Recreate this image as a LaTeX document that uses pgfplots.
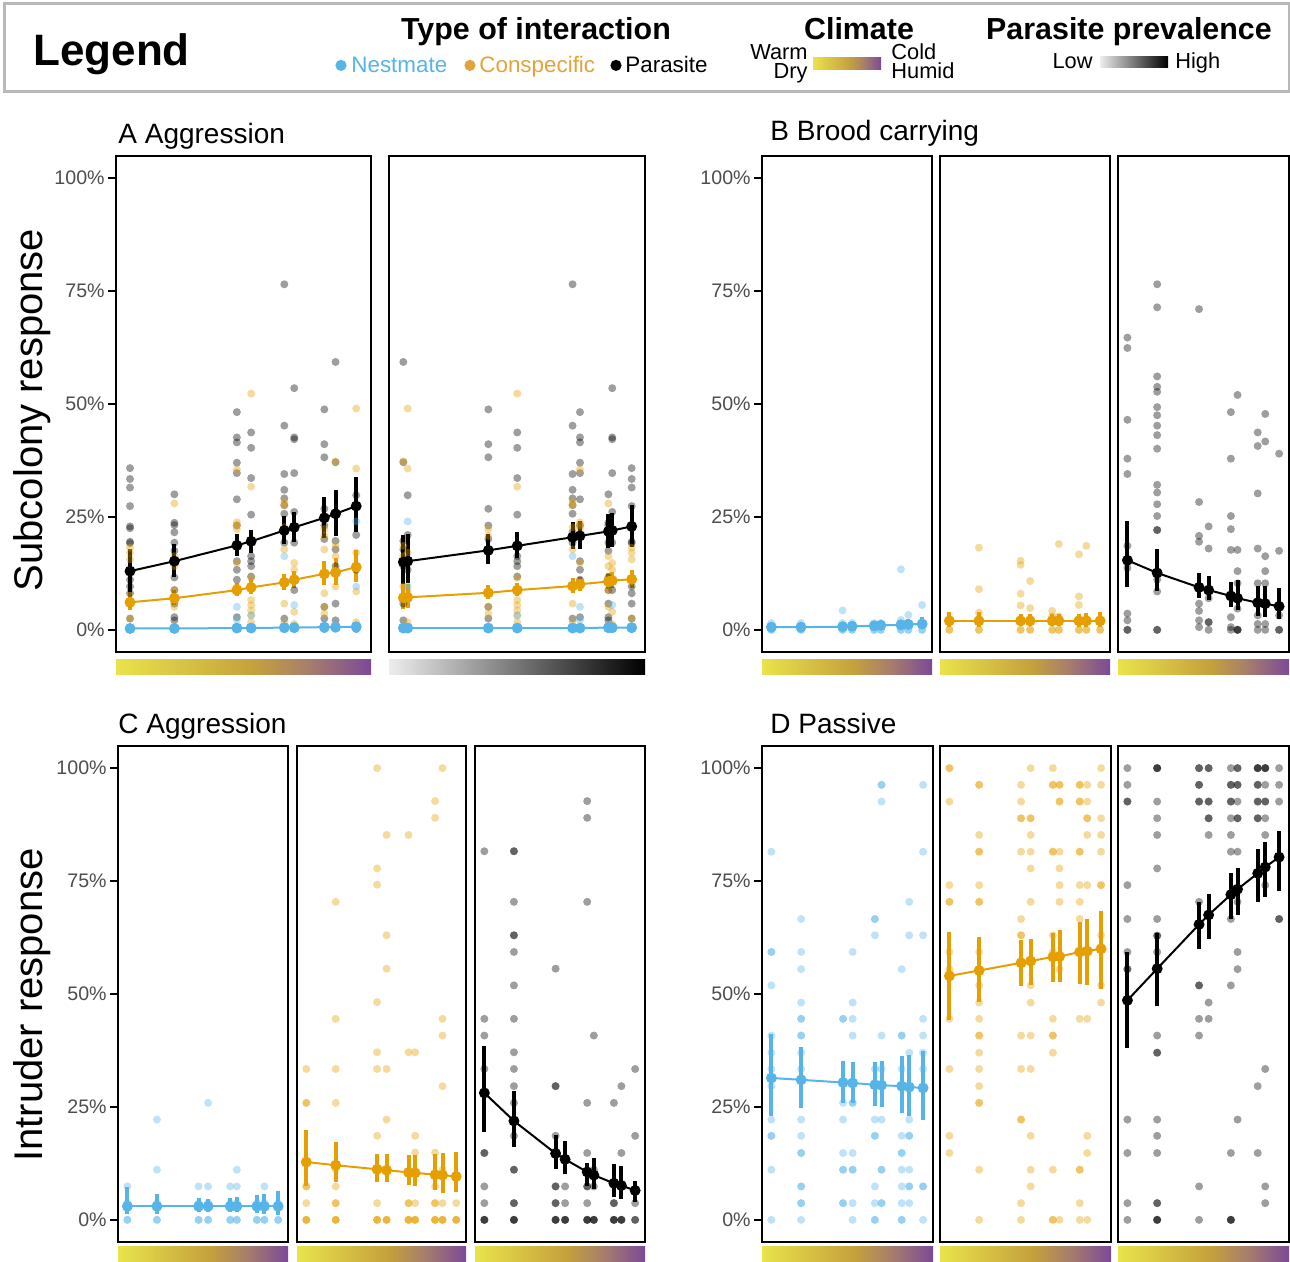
\documentclass[border=0pt]{standalone}
\usepackage{fontspec}
\setmainfont{Liberation Sans}
\usepackage{pgfplots}
\pgfplotsset{compat=1.18}
\usepackage{pgfplotstable}

\definecolor{nest}{HTML}{56B4E9}
\definecolor{consp}{HTML}{E69F00}
\definecolor{conspTxt}{HTML}{E3A33A}
\definecolor{tickgrey}{HTML}{4D4D4D}
\definecolor{legframe}{HTML}{B8B8B8}
\definecolor{climA}{HTML}{E9E34B}
\definecolor{climB}{HTML}{C5A13C}
\definecolor{climC}{HTML}{A67D6C}
\definecolor{climD}{HTML}{7C4997}
\pgfdeclarehorizontalshading{climate}{100bp}{color(0bp)=(climA); color(25bp)=(climA); color(52bp)=(climB); color(63bp)=(climC); color(75bp)=(climD); color(100bp)=(climD)}

\newcommand\fs[1]{\fontsize{#1}{#1}\selectfont}

\pgfplotsset{
  panel/.style={scale only axis, anchor=south west, height=248pt,
    xmin=0, xmax=1, ymin=-4.9, ymax=104.9, xtick=\empty, ytick=\empty,
    axis line style={line width=1.25pt}},
  lefty/.style={ytick={0,25,50,75,100}, yticklabels={0\%,25\%,50\%,75\%,100\%},
    ytick pos=left, tick align=outside, major tick length=4pt,
    ytick style={line width=0.9pt, black},
    yticklabel style={font=\fs{9.8}, text=tickgrey, inner sep=1.5pt}},
  pts/.style={only marks, mark=*, mark size=2pt, color=#1, draw=none,
    mark options={draw=none, draw opacity=0, fill=#1, fill opacity=0.38}},
  mean/.style={color=#1, line width=1pt, mark=*, mark size=2.2pt,
    mark options={fill=#1, draw=#1, fill opacity=1},
    error bars/y dir=both, error bars/y explicit, error bars/error mark=none,
    error bars/error bar style={line width=2pt, color=#1}},
}

% ---------- panel A: raw subcolony data (climate position, parasite position) ----------
\pgfplotstableread{
xc xp y
0.055 0.948 35.8
0.055 0.948 33.4
0.055 0.948 31.5
0.055 0.948 27.4
0.055 0.948 22.9
0.055 0.948 22.5
0.055 0.948 19.5
0.055 0.948 19.2
0.055 0.948 11.1
0.055 0.948 9.6
0.055 0.948 8.1
0.055 0.948 5.8
0.055 0.948 2.5
0.055 0.948 0.2
0.229 0.857 30.0
0.229 0.857 23.7
0.229 0.857 23.2
0.229 0.857 21.6
0.229 0.857 19.3
0.229 0.857 17.5
0.229 0.857 11.6
0.229 0.857 8.8
0.229 0.857 5.8
0.229 0.857 2.8
0.229 0.857 2.1
0.229 0.857 0.2
0.474 0.746 48.2
0.474 0.746 42.6
0.474 0.746 41.5
0.474 0.746 37.0
0.474 0.746 34.7
0.474 0.746 28.9
0.474 0.746 23.1
0.474 0.746 15.2
0.474 0.746 13.3
0.474 0.746 11.1
0.474 0.746 2.8
0.474 0.746 0.2
0.530 0.501 43.7
0.530 0.501 40.3
0.530 0.501 33.6
0.530 0.501 25.5
0.530 0.501 16.3
0.530 0.501 15.2
0.530 0.501 14.1
0.530 0.501 11.8
0.530 0.501 0.2
0.660 0.717 76.5
0.660 0.717 45.2
0.660 0.717 34.5
0.660 0.717 31.0
0.660 0.717 29.1
0.660 0.717 27.6
0.660 0.717 25.7
0.660 0.717 21.6
0.660 0.717 19.3
0.660 0.717 2.5
0.660 0.717 0.2
0.699 0.872 53.5
0.699 0.872 42.6
0.699 0.872 42.2
0.699 0.872 34.7
0.699 0.872 26.1
0.699 0.872 19.3
0.699 0.872 8.8
0.699 0.872 0.2
0.817 0.388 48.8
0.817 0.388 41.1
0.817 0.388 38.2
0.817 0.388 26.8
0.817 0.388 23.1
0.817 0.388 20.1
0.817 0.388 5.1
0.817 0.388 2.5
0.817 0.388 0.2
0.861 0.056 59.3
0.861 0.056 37.1
0.861 0.056 19.7
0.861 0.056 17.8
0.861 0.056 14.1
0.861 0.056 5.8
0.861 0.056 2.1
0.942 0.073 29.8
0.942 0.073 21.0
0.942 0.073 13.3
0.942 0.073 0.2
}\tAgrey

\pgfplotstableread{
xc xp y
0.055 0.948 18.2
0.055 0.948 17.1
0.055 0.948 15.6
0.055 0.948 2.5
0.055 0.948 0.6
0.229 0.857 28.0
0.229 0.857 16.3
0.229 0.857 14.1
0.229 0.857 8.8
0.229 0.857 5.1
0.474 0.746 35.5
0.474 0.746 23.8
0.474 0.746 23.2
0.474 0.746 22.3
0.474 0.746 14.8
0.474 0.746 9.6
0.530 0.501 52.3
0.530 0.501 31.7
0.530 0.501 11.5
0.530 0.501 6.6
0.530 0.501 5.5
0.530 0.501 4.3
0.530 0.501 3.2
0.530 0.501 1.7
0.660 0.717 28.3
0.660 0.717 27.6
0.660 0.717 22.7
0.660 0.717 17.8
0.660 0.717 5.8
0.660 0.717 1.7
0.699 0.872 14.8
0.699 0.872 13.3
0.699 0.872 4.0
0.699 0.872 1.3
0.817 0.388 22.3
0.817 0.388 20.8
0.817 0.388 17.8
0.817 0.388 8.1
0.817 0.388 5.1
0.817 0.388 3.6
0.861 0.056 37.3
0.861 0.056 18.6
0.861 0.056 16.3
0.861 0.056 9.6
0.942 0.073 49.0
0.942 0.073 35.7
0.942 0.073 17.1
0.942 0.073 8.5
0.942 0.073 1.7
}\tAorange

\pgfplotstableread{
xc xp y
0.055 0.948 0.2
0.055 0.948 0.2
0.229 0.857 0.2
0.229 0.857 0.2
0.474 0.746 5.1
0.474 0.746 2.2
0.474 0.746 0.2
0.474 0.746 0.2
0.530 0.501 3.2
0.530 0.501 0.2
0.530 0.501 0.2
0.660 0.717 16.3
0.660 0.717 0.2
0.660 0.717 0.2
0.699 0.872 5.5
0.699 0.872 0.2
0.817 0.388 0.2
0.817 0.388 0.2
0.861 0.056 0.2
0.942 0.073 24.0
0.942 0.073 9.6
0.942 0.073 0.2
0.942 0.073 0.2
}\tAblue

% ---------- panel A: model means ----------
\pgfplotstableread{
x y ep em
0.055 13.0 4.8 4.9
0.229 15.2 3.8 3.4
0.474 18.7 2.5 2.4
0.530 19.6 2.6 2.5
0.660 22.0 3.2 3.0
0.699 22.7 3.4 3.3
0.817 24.8 4.7 4.4
0.861 25.7 5.3 5.0
0.942 27.4 6.5 5.8
}\mAck
\pgfplotstableread{
x y ep em
0.055 6.1 2.2 1.8
0.229 7.0 1.9 1.6
0.474 8.8 1.5 1.3
0.530 9.4 1.6 1.4
0.660 10.5 1.8 1.6
0.699 11.1 2.0 1.8
0.817 12.4 2.9 2.5
0.861 12.7 3.3 2.8
0.942 13.9 3.7 3.2
}\mAco
\pgfplotstableread{
x y ep em
0.055 0.3 0.4 0.3
0.229 0.3 0.4 0.3
0.474 0.4 0.4 0.3
0.530 0.4 0.4 0.3
0.660 0.5 0.5 0.3
0.699 0.5 0.5 0.3
0.817 0.6 0.5 0.4
0.861 0.6 0.5 0.4
0.942 0.7 0.6 0.4
}\mAcb
\pgfplotstableread{
x y ep em
0.056 15.0 6.0 4.9
0.073 15.2 6.0 4.9
0.388 17.6 3.6 3.1
0.501 18.6 3.0 2.6
0.717 20.5 3.3 2.7
0.746 20.8 3.2 2.8
0.857 21.8 3.9 3.6
0.872 22.0 3.9 3.6
0.948 22.9 4.8 4.5
}\mApk
\pgfplotstableread{
x y ep em
0.056 7.1 3.0 2.4
0.073 7.2 3.0 2.4
0.388 8.2 1.7 1.4
0.501 8.8 1.6 1.4
0.717 9.7 1.7 1.5
0.746 10.1 1.7 1.5
0.857 10.7 1.9 1.7
0.872 10.9 1.9 1.7
0.948 11.2 2.1 1.9
}\mApo
\pgfplotstableread{
x y ep em
0.056 0.4 0.4 0.3
0.073 0.4 0.4 0.3
0.388 0.4 0.4 0.3
0.501 0.4 0.4 0.3
0.717 0.4 0.4 0.3
0.746 0.4 0.4 0.3
0.857 0.5 0.4 0.3
0.872 0.5 0.4 0.3
0.948 0.5 0.5 0.3
}\mApb

% ---------- panel B ----------
\pgfplotstableread{
x y
0.055 0 
0.055 0
0.055 1.5
0.229 0
0.229 0
0.229 1.5
0.474 0
0.474 0
0.474 1.5
0.474 4.3
0.530 0
0.530 0
0.530 1.5
0.660 0
0.660 0
0.660 1.5
0.699 0
0.699 0
0.699 1.5
0.817 0
0.817 0
0.817 1.5
0.817 2.2
0.817 13.4
0.861 0
0.861 0
0.861 1.5
0.861 3.3
0.942 0
0.942 0
0.942 1.5
0.942 5.5
}\tBb
\pgfplotstableread{
x y
0.055 0
0.055 0
0.055 1.8
0.229 0
0.229 0
0.229 1.8
0.229 3.8
0.229 9.0
0.229 18.2
0.474 0
0.474 0
0.474 1.8
0.474 5.4
0.474 8.0
0.474 14.4
0.474 15.3
0.530 0
0.530 0
0.530 1.8
0.530 4.8
0.530 10.8
0.660 0
0.660 0
0.660 1.8
0.660 3.0
0.660 4.2
0.699 0
0.699 0
0.699 1.8
0.699 3.0
0.699 19.0
0.817 0
0.817 0
0.817 1.8
0.817 5.5
0.817 7.4
0.817 16.7
0.861 0
0.861 0
0.861 1.8
0.861 18.6
0.942 0
0.942 0
0.942 1.8
}\tBo
\pgfplotstableread{
x y
0.055 64.7
0.055 62.4
0.055 46.5
0.055 37.9
0.055 34.5
0.055 18.6
0.055 13.7
0.055 3.6
0.055 2.1
0.055 0
0.055 0
0.229 76.5
0.229 71.4
0.229 56.1
0.229 53.8
0.229 52.7
0.229 49.3
0.229 47.5
0.229 45.2
0.229 43.1
0.229 40.1
0.229 32.1
0.229 30.4
0.229 27.8
0.229 25.2
0.229 22.1
0.229 22.1
0.229 11.1
0.229 8.5
0.229 0
0.229 0
0.474 71.0
0.474 28.3
0.474 20.8
0.474 19.5
0.474 5.8
0.474 4.2
0.474 2.1
0.474 0.6
0.530 22.9
0.530 18.0
0.530 7.0
0.530 1.7
0.530 1.7
0.530 0
0.660 48.2
0.660 37.9
0.660 25.2
0.660 22.3
0.660 17.7
0.660 2.8
0.660 0.6
0.660 0
0.699 52.0
0.699 17.7
0.699 13.0
0.699 10.3
0.699 4.7
0.699 0
0.699 0
0.699 0
0.817 43.7
0.817 40.7
0.817 30.2
0.817 18.0
0.817 10.3
0.817 3.2
0.817 1.3
0.817 0
0.861 47.8
0.861 41.7
0.861 16.3
0.861 13.0
0.861 10.3
0.861 1.3
0.861 0
0.942 39.0
0.942 17.5
0.942 3.2
0.942 0
0.942 0
}\tBk
\pgfplotstableread{
x y ep em
0.055 0.6 0.5 0.4
0.229 0.6 0.5 0.4
0.474 0.7 0.6 0.4
0.530 0.8 0.6 0.4
0.660 0.9 0.8 0.5
0.699 1.0 0.9 0.5
0.817 1.1 1.1 0.6
0.861 1.2 1.3 0.6
0.942 1.3 1.5 0.7
}\mBb
\pgfplotstableread{
x y ep em
0.055 2.0 1.9 1.4
0.229 2.0 1.9 1.4
0.474 2.0 1.5 1.2
0.530 2.0 1.5 1.2
0.660 2.0 1.5 1.2
0.699 2.0 1.5 1.2
0.817 2.0 1.6 1.3
0.861 2.0 1.7 1.3
0.942 2.0 1.9 1.4
}\mBo
\pgfplotstableread{
x y ep em
0.055 15.4 8.6 6.0
0.229 12.6 5.4 4.1
0.474 9.4 3.2 2.4
0.530 8.8 3.2 2.2
0.660 7.5 3.2 2.4
0.699 7.0 4.1 2.7
0.817 6.0 3.8 3.0
0.861 5.8 3.8 3.0
0.942 5.2 4.0 2.7
}\mBk

% ---------- panel C ----------
\pgfplotstableread{
x y
0.055 0
0.055 0
0.055 3.7
0.055 7.4
0.229 0
0.229 0
0.229 3.7
0.229 11.1
0.229 22.2
0.474 0
0.474 0
0.474 3.7
0.474 7.4
0.530 0
0.530 0
0.530 3.7
0.530 7.4
0.530 25.9
0.660 0
0.660 0
0.660 3.7
0.660 7.4
0.699 0
0.699 0
0.699 3.7
0.699 7.4
0.699 11.1
0.817 0
0.817 0
0.817 3.7
0.861 0
0.861 0
0.861 3.7
0.861 7.4
0.942 0
0.942 0
0.942 3.7
}\tCb
\pgfplotstableread{
x y
0.055 33.4
0.055 25.9
0.055 25.9
0.055 7.4
0.055 7.4
0.055 3.7
0.055 0
0.055 0
0.055 0
0.229 70.4
0.229 44.5
0.229 33.4
0.229 25.9
0.229 11.1
0.229 7.4
0.229 3.7
0.229 3.7
0.229 0
0.229 0
0.229 0
0.474 100
0.474 77.8
0.474 74.2
0.474 48.2
0.474 37.1
0.474 33.4
0.474 18.6
0.474 3.7
0.474 0
0.474 0
0.474 0
0.530 85.2
0.530 63.0
0.530 55.6
0.530 33.4
0.530 22.2
0.530 0
0.530 0
0.530 0
0.660 85.2
0.660 37.1
0.660 3.7
0.660 3.7
0.660 0
0.660 0
0.660 0
0.699 37.1
0.699 18.6
0.699 14.9
0.699 3.7
0.699 0
0.699 0
0.699 0
0.817 92.7
0.817 89.0
0.817 14.9
0.817 7.4
0.817 3.7
0.817 3.7
0.817 0
0.817 0
0.817 0
0.861 100
0.861 44.5
0.861 40.8
0.861 29.6
0.861 11.1
0.861 3.7
0.861 0
0.861 0
0.861 0
0.942 3.7
0.942 0
0.942 0
0.942 0
}\tCo
\pgfplotstableread{
x y
0.055 81.6
0.055 44.5
0.055 40.8
0.055 33.4
0.055 14.8
0.055 14.8
0.055 7.4
0.055 3.7
0.055 0
0.055 0
0.055 0
0.229 81.6
0.229 81.6
0.229 70.4
0.229 63.0
0.229 63.0
0.229 59.3
0.229 51.9
0.229 44.5
0.229 37.1
0.229 33.4
0.229 29.6
0.229 25.9
0.229 18.6
0.229 11.1
0.229 11.1
0.229 3.7
0.229 3.7
0.229 0
0.229 0
0.229 0
0.474 55.6
0.474 29.6
0.474 29.6
0.474 18.6
0.474 7.4
0.474 7.4
0.474 3.7
0.474 3.7
0.474 0
0.474 0
0.474 0
0.530 7.4
0.530 3.7
0.530 0
0.530 0
0.530 0
0.660 92.7
0.660 89.0
0.660 70.4
0.660 25.9
0.660 14.8
0.660 7.4
0.660 7.4
0.660 3.7
0.660 0
0.660 0
0.660 0
0.699 40.8
0.699 11.1
0.699 7.4
0.699 0
0.699 0
0.699 0
0.817 25.9
0.817 3.7
0.817 3.7
0.817 0
0.817 0
0.817 0
0.861 29.6
0.861 14.8
0.861 7.4
0.861 0
0.861 0
0.861 0
0.942 33.4
0.942 18.6
0.942 3.7
0.942 0
0.942 0
}\tCk
\pgfplotstableread{
x y ep em
0.055 3.0 4.2 1.7
0.229 3.0 2.7 1.7
0.474 3.0 1.8 1.2
0.530 3.0 1.7 1.2
0.660 3.0 1.9 1.3
0.699 3.0 2.0 1.3
0.817 3.0 2.5 1.5
0.861 3.0 2.7 1.6
0.942 3.0 3.3 1.9
}\mCb
\pgfplotstableread{
x y ep em
0.055 12.8 7.2 5.4
0.229 12.1 5.2 3.7
0.474 11.2 3.3 2.8
0.530 11.0 3.5 2.6
0.660 10.5 3.8 2.7
0.699 10.4 3.9 3.0
0.817 10.0 4.5 3.4
0.861 9.9 5.0 4.0
0.942 9.6 5.5 3.5
}\mCo
\pgfplotstableread{
x y ep em
0.055 28.1 10.4 8.6
0.229 21.9 6.7 5.7
0.474 14.7 4.0 3.5
0.530 13.4 4.1 3.3
0.660 10.6 2.0 3.0
0.699 9.9 3.9 3.1
0.817 8.1 4.2 3.1
0.861 7.6 4.4 3.0
0.942 6.5 2.2 2.6
}\mCk

% ---------- panel D ----------
\pgfplotstableread{
x y
0.055 81.5
0.055 59.3
0.055 59.3
0.055 51.9
0.055 40.8
0.055 37.0
0.055 33.4
0.055 29.6
0.055 22.2
0.055 18.6
0.055 18.6
0.055 11.1
0.055 0
0.229 66.6
0.229 59.3
0.229 55.5
0.229 48.1
0.229 44.5
0.229 44.5
0.229 40.8
0.229 40.8
0.229 37.0
0.229 33.4
0.229 22.2
0.229 18.6
0.229 14.8
0.229 14.8
0.229 7.4
0.229 7.4
0.229 3.7
0.229 3.7
0.229 0
0.474 44.5
0.474 44.5
0.474 25.9
0.474 22.2
0.474 14.8
0.474 11.1
0.474 11.1
0.474 3.7
0.474 3.7
0.530 59.3
0.530 48.1
0.530 44.5
0.530 40.8
0.530 25.9
0.530 25.9
0.530 14.8
0.530 11.1
0.530 11.1
0.530 3.7
0.530 0
0.660 66.6
0.660 66.6
0.660 63.0
0.660 33.4
0.660 22.2
0.660 18.6
0.660 18.6
0.660 7.4
0.660 3.7
0.660 0
0.660 0
0.699 96.3
0.699 96.3
0.699 92.6
0.699 40.8
0.699 33.4
0.699 22.2
0.699 11.1
0.699 11.1
0.699 3.7
0.699 3.7
0.817 55.5
0.817 40.8
0.817 40.8
0.817 33.4
0.817 18.6
0.817 14.8
0.817 14.8
0.817 11.1
0.817 7.4
0.817 3.7
0.817 0
0.817 0
0.861 70.4
0.861 63.0
0.861 37.0
0.861 22.2
0.861 18.6
0.861 18.6
0.861 11.1
0.861 7.4
0.861 7.4
0.861 3.7
0.942 96.3
0.942 81.5
0.942 63.0
0.942 44.5
0.942 40.8
0.942 37.0
0.942 33.4
0.942 7.4
0.942 7.4
0.942 0
}\tDb
\pgfplotstableread{
x y
0.055 100
0.055 100
0.055 92.6
0.055 74.1
0.055 70.4
0.055 70.4
0.055 59.3
0.055 55.5
0.055 44.5
0.055 33.4
0.055 18.6
0.055 14.8
0.229 96.3
0.229 96.3
0.229 85.2
0.229 81.5
0.229 81.5
0.229 74.1
0.229 70.4
0.229 70.4
0.229 59.3
0.229 51.9
0.229 48.1
0.229 44.5
0.229 40.8
0.229 40.8
0.229 37.0
0.229 33.4
0.229 29.6
0.229 25.9
0.229 25.9
0.229 11.1
0.229 0
0.474 96.3
0.474 92.6
0.474 88.9
0.474 88.9
0.474 81.5
0.474 66.6
0.474 63.0
0.474 63.0
0.474 40.8
0.474 33.4
0.474 22.2
0.474 22.2
0.474 3.7
0.474 0
0.530 100
0.530 88.9
0.530 88.9
0.530 85.2
0.530 81.5
0.530 77.8
0.530 70.4
0.530 51.9
0.530 48.1
0.530 40.8
0.530 33.4
0.530 18.6
0.530 11.1
0.530 7.4
0.660 100
0.660 96.3
0.660 96.3
0.660 81.5
0.660 81.5
0.660 63.0
0.660 59.3
0.660 44.5
0.660 40.8
0.660 40.8
0.660 37.0
0.660 11.1
0.660 0
0.660 0
0.699 96.3
0.699 96.3
0.699 92.6
0.699 92.6
0.699 81.5
0.699 77.8
0.699 74.1
0.699 70.4
0.699 55.5
0.699 0
0.817 96.3
0.817 96.3
0.817 92.6
0.817 92.6
0.817 81.5
0.817 81.5
0.817 74.1
0.817 70.4
0.817 66.6
0.817 44.5
0.817 11.1
0.817 11.1
0.817 3.7
0.817 0
0.861 96.3
0.861 92.6
0.861 88.9
0.861 88.9
0.861 85.2
0.861 74.1
0.861 44.5
0.861 18.6
0.861 14.8
0.861 0
0.942 100
0.942 96.3
0.942 88.9
0.942 85.2
0.942 81.5
0.942 74.1
0.942 74.1
0.942 63.0
0.942 51.9
0.942 48.1
}\tDo
\pgfplotstableread{
x y
0.055 100
0.055 96.3
0.055 92.6
0.055 92.6
0.055 74.1
0.055 66.6
0.055 59.3
0.055 55.5
0.055 55.5
0.055 22.2
0.055 14.8
0.055 3.7
0.055 0
0.229 100
0.229 100
0.229 100
0.229 92.6
0.229 88.9
0.229 85.2
0.229 77.8
0.229 66.6
0.229 62.9
0.229 62.9
0.229 59.3
0.229 55.5
0.229 40.8
0.229 37.0
0.229 37.0
0.229 22.2
0.229 18.6
0.229 14.8
0.229 3.7
0.229 3.7
0.229 0
0.229 0
0.229 0
0.474 100
0.474 100
0.474 96.3
0.474 96.3
0.474 92.6
0.474 92.6
0.474 70.4
0.474 51.9
0.474 51.9
0.474 44.5
0.474 40.8
0.474 7.4
0.474 0
0.530 100
0.530 100
0.530 92.6
0.530 92.6
0.530 88.9
0.530 88.9
0.530 85.2
0.530 48.1
0.530 44.5
0.660 100
0.660 96.3
0.660 96.3
0.660 92.6
0.660 92.6
0.660 88.9
0.660 85.2
0.660 81.5
0.660 66.6
0.660 51.9
0.660 14.8
0.660 0
0.660 0
0.660 0
0.699 100
0.699 100
0.699 96.3
0.699 96.3
0.699 92.6
0.699 88.9
0.699 88.9
0.699 81.5
0.699 70.4
0.699 59.3
0.699 55.5
0.699 22.2
0.817 100
0.817 100
0.817 100
0.817 96.3
0.817 96.3
0.817 92.6
0.817 92.6
0.817 88.9
0.817 88.9
0.817 29.6
0.817 14.8
0.861 100
0.861 100
0.861 100
0.861 96.3
0.861 92.6
0.861 92.6
0.861 88.9
0.861 85.2
0.861 74.1
0.861 33.4
0.861 7.4
0.861 3.7
0.942 100
0.942 96.3
0.942 92.6
0.942 66.6
0.942 66.6
}\tDk
\pgfplotstableread{
x y ep em
0.055 31.4 9.7 8.4
0.229 31.0 7.2 6.3
0.474 30.4 4.8 4.5
0.530 30.3 4.7 4.4
0.660 29.9 5.1 4.6
0.699 29.8 5.4 4.9
0.817 29.6 6.6 6.0
0.861 29.4 7.1 6.3
0.942 29.2 8.2 7.1
}\mDb
\pgfplotstableread{
x y ep em
0.055 54.0 9.7 9.8
0.229 55.2 7.4 6.9
0.474 56.9 5.1 5.2
0.530 57.3 4.8 5.2
0.660 58.2 5.3 5.6
0.699 58.3 5.8 5.7
0.817 59.3 6.7 7.1
0.861 59.5 7.1 7.6
0.942 60.0 8.3 8.8
}\mDo
\pgfplotstableread{
x y ep em
0.055 48.6 10.7 10.6
0.229 55.6 7.9 8.2
0.474 65.4 5.0 5.5
0.530 67.5 4.6 5.4
0.660 72.0 4.7 5.5
0.699 73.2 4.8 5.8
0.817 76.7 5.3 6.4
0.861 78.1 5.5 6.7
0.942 80.3 5.8 7.4
}\mDk

\begin{document}
\begin{tikzpicture}
\path[use as bounding box] (0,0) rectangle (645pt,631pt);

% ---------------- legend ----------------
\draw[legframe, line width=1.5pt] (2pt,585pt) rectangle (644.5pt,629pt);
\node[anchor=base west, inner sep=0pt, font=\fs{22}\bfseries] at (16.5pt,598pt) {Legend};
\node[anchor=base, inner sep=0pt, font=\fs{15.2}\bfseries] at (268pt,611pt) {Type of interaction};
\node[anchor=base, inner sep=0pt, font=\fs{15.2}\bfseries] at (429.5pt,611pt) {Climate};
\node[anchor=base, inner sep=0pt, font=\fs{15.2}\bfseries] at (564.5pt,611pt) {Parasite prevalence};
\fill[nest] (170.5pt,598.3pt) circle (2.8pt);
\node[anchor=base west, inner sep=0pt, font=\fs{11.2}, text=nest] at (175.5pt,594.5pt) {Nestmate};
\fill[conspTxt] (235pt,598.3pt) circle (2.8pt);
\node[anchor=base west, inner sep=0pt, font=\fs{11.2}, text=conspTxt] at (239.5pt,594.5pt) {Conspecific};
\fill[black] (308pt,598.3pt) circle (2.8pt);
\node[anchor=base west, inner sep=0pt, font=\fs{11.2}] at (312.5pt,594.5pt) {Parasite};
\node[anchor=base east, inner sep=0pt, font=\fs{10.9}] at (404pt,601pt) {Warm};
\node[anchor=base east, inner sep=0pt, font=\fs{10.9}] at (404pt,591.5pt) {Dry};
\shade[shading=climate] (406.5pt,596pt) rectangle (440.5pt,602pt);
\node[anchor=base west, inner sep=0pt, font=\fs{10.9}] at (445.5pt,601pt) {Cold};
\node[anchor=base west, inner sep=0pt, font=\fs{10.9}] at (445.5pt,591.5pt) {Humid};
\node[anchor=base east, inner sep=0pt, font=\fs{10.9}] at (546.5pt,596.5pt) {Low};
\shade[left color=gray!14, right color=black] (550pt,597pt) rectangle (584pt,602.5pt);
\node[anchor=base west, inner sep=0pt, font=\fs{10.9}] at (587.5pt,596.5pt) {High};

% ---------------- titles and y labels ----------------
\node[anchor=base west, inner sep=0pt, font=\fs{14}] at (59pt,559pt) {A Aggression};
\node[anchor=base west, inner sep=0pt, font=\fs{14}] at (385pt,560.5pt) {B Brood carrying};
\node[anchor=base west, inner sep=0pt, font=\fs{14}] at (59pt,264pt) {C Aggression};
\node[anchor=base west, inner sep=0pt, font=\fs{14}] at (385pt,264pt) {D Passive};
\node[rotate=90, anchor=base, inner sep=0pt, font=\fs{20}] at (21pt,426pt) {Subcolony response};
\node[rotate=90, anchor=base, inner sep=0pt, font=\fs{20}] at (21pt,128.5pt) {Intruder response};

% ---------------- colour bars ----------------
\shade[shading=climate] (58pt,293.5pt) rectangle (185.5pt,301pt);
\shade[left color=gray!14, right color=black] (194.5pt,293.5pt) rectangle (322.5pt,301pt);
\shade[shading=climate] (381pt,293.5pt) rectangle (466pt,301pt);
\shade[shading=climate] (470pt,293.5pt) rectangle (555pt,301pt);
\shade[shading=climate] (559pt,293.5pt) rectangle (644.5pt,301pt);
\shade[shading=climate] (59pt,0pt) rectangle (144pt,7.5pt);
\shade[shading=climate] (148.5pt,0pt) rectangle (233pt,7.5pt);
\shade[shading=climate] (237.5pt,0pt) rectangle (322.5pt,7.5pt);
\shade[shading=climate] (381pt,0pt) rectangle (466.5pt,7.5pt);
\shade[shading=climate] (470pt,0pt) rectangle (555.5pt,7.5pt);
\shade[shading=climate] (559pt,0pt) rectangle (644.5pt,7.5pt);

% ---------------- A1: climate ----------------
\begin{axis}[panel, lefty, at={(58pt,305pt)}, width=127.5pt]
\addplot[pts=black] table[x=xc, y=y] {\tAgrey};
\addplot[pts=consp] table[x=xc, y=y] {\tAorange};
\addplot[pts=nest] table[x=xc, y=y] {\tAblue};
\addplot[mean=black] table[x=x, y=y, y error plus=ep, y error minus=em] {\mAck};
\addplot[mean=consp] table[x=x, y=y, y error plus=ep, y error minus=em] {\mAco};
\addplot[mean=nest] table[x=x, y=y, y error plus=ep, y error minus=em] {\mAcb};
\end{axis}

% ---------------- A2: parasite prevalence ----------------
\begin{axis}[panel, at={(194.5pt,305pt)}, width=128pt]
\addplot[pts=black] table[x=xp, y=y] {\tAgrey};
\addplot[pts=consp] table[x=xp, y=y] {\tAorange};
\addplot[pts=nest] table[x=xp, y=y] {\tAblue};
\addplot[mean=black] table[x=x, y=y, y error plus=ep, y error minus=em] {\mApk};
\addplot[mean=consp] table[x=x, y=y, y error plus=ep, y error minus=em] {\mApo};
\addplot[mean=nest] table[x=x, y=y, y error plus=ep, y error minus=em] {\mApb};
\end{axis}

% ---------------- B ----------------
\begin{axis}[panel, lefty, at={(381pt,305pt)}, width=85pt]
\addplot[pts=nest] table[x=x, y=y] {\tBb};
\addplot[mean=nest] table[x=x, y=y, y error plus=ep, y error minus=em] {\mBb};
\end{axis}
\begin{axis}[panel, at={(470pt,305pt)}, width=85pt]
\addplot[pts=consp] table[x=x, y=y] {\tBo};
\addplot[mean=consp] table[x=x, y=y, y error plus=ep, y error minus=em] {\mBo};
\end{axis}
\begin{axis}[panel, at={(559pt,305pt)}, width=85.5pt]
\addplot[pts=black] table[x=x, y=y] {\tBk};
\addplot[mean=black] table[x=x, y=y, y error plus=ep, y error minus=em] {\mBk};
\end{axis}

% ---------------- C ----------------
\begin{axis}[panel, lefty, at={(59pt,10pt)}, width=85pt]
\addplot[pts=nest] table[x=x, y=y] {\tCb};
\addplot[mean=nest] table[x=x, y=y, y error plus=ep, y error minus=em] {\mCb};
\end{axis}
\begin{axis}[panel, at={(148.5pt,10pt)}, width=84.5pt]
\addplot[pts=consp] table[x=x, y=y] {\tCo};
\addplot[mean=consp] table[x=x, y=y, y error plus=ep, y error minus=em] {\mCo};
\end{axis}
\begin{axis}[panel, at={(237.5pt,10pt)}, width=85pt]
\addplot[pts=black] table[x=x, y=y] {\tCk};
\addplot[mean=black] table[x=x, y=y, y error plus=ep, y error minus=em] {\mCk};
\end{axis}

% ---------------- D ----------------
\begin{axis}[panel, lefty, at={(381pt,10pt)}, width=85.5pt]
\addplot[pts=nest] table[x=x, y=y] {\tDb};
\addplot[mean=nest] table[x=x, y=y, y error plus=ep, y error minus=em] {\mDb};
\end{axis}
\begin{axis}[panel, at={(470pt,10pt)}, width=85.5pt]
\addplot[pts=consp] table[x=x, y=y] {\tDo};
\addplot[mean=consp] table[x=x, y=y, y error plus=ep, y error minus=em] {\mDo};
\end{axis}
\begin{axis}[panel, at={(559pt,10pt)}, width=85.5pt]
\addplot[pts=black] table[x=x, y=y] {\tDk};
\addplot[mean=black] table[x=x, y=y, y error plus=ep, y error minus=em] {\mDk};
\end{axis}
\end{tikzpicture}
\end{document}
